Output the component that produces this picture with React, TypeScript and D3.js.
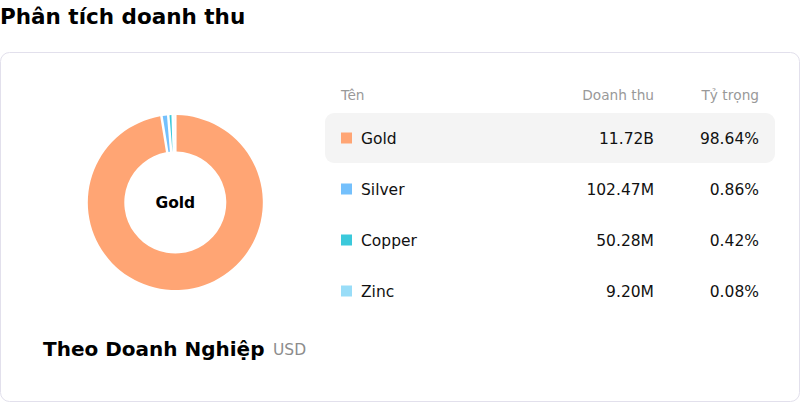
import * as d3 from 'd3';

const names = ['Gold', 'Silver', 'Copper', 'Zinc'];
const revenue = ['11.72B', '102.47M', '50.28M', '9.20M'];
const shares = [98.64, 0.86, 0.42, 0.08];
const colors = ['#FFA574', '#74C0FC', '#3BC9DB', '#99DDF8'];
const headers = ['Tên', 'Doanh thu', 'Tỷ trọng'];

const W = 800;
const H = 402;
const FONT = '"DejaVu Sans", Verdana, sans-serif';

export default function App() {
    const cx = 175.3;
    const cy = 202.5;
    const pie = d3.pie<number>().sort(null).value(d => d).padAngle(0.025);
    const arcs = pie(shares);
    const arc = d3.arc<d3.PieArcDatum<number>>().innerRadius(51).outerRadius(87.5);

    const y = d3.scaleBand<string>().domain(names).range([113, 317]).paddingInner(0);
    const colName = 341;
    const colRev = 654;
    const colShare = 759;

    return (
        <svg width={W} height={H} style={{ position: 'absolute', left: 0, top: 0, fontFamily: FONT }}>
            <text x={0} y={24} fontSize={21.5} fontWeight="bold" fill="#000">Phân tích doanh thu</text>
            <rect x={0.5} y={52.5} width={799} height={349} rx={9} fill="#fff" stroke="#e2e0ec" />

            <g transform={`translate(${cx},${cy})`}>
                {arcs.map((a, i) => (
                    <path key={names[i]} d={arc(a) || ''} fill={colors[i]} />
                ))}
                <text x={0} y={0} dy="0.35em" textAnchor="middle" fontSize={15.5} fontWeight="bold" fill="#000">{names[0]}</text>
            </g>

            <text x={43} y={356} fontSize={20} fontWeight="bold" fill="#000">Theo Doanh Nghiệp</text>
            <text x={273} y={355} fontSize={15.5} fill="#8c8c8c">USD</text>

            <text x={colName} y={100} fontSize={13.7} fill="#999">{headers[0]}</text>
            <text x={colRev} y={100} fontSize={13.7} fill="#999" textAnchor="end">{headers[1]}</text>
            <text x={colShare} y={100} fontSize={13.7} fill="#999" textAnchor="end">{headers[2]}</text>

            {names.map((n, i) => {
                const top = y(n)!;
                const mid = top + 25;
                return (
                    <g key={n}>
                        {i === 0 && <rect x={325} y={top} width={450} height={50} rx={9} fill="#f4f4f4" />}
                        <rect x={341} y={mid - 5.5} width={11} height={11} fill={colors[i]} />
                        <text x={361} y={mid} dy="0.36em" fontSize={15.5} fill="#111">{n}</text>
                        <text x={colRev} y={mid} dy="0.36em" fontSize={15.5} fill="#111" textAnchor="end">{revenue[i]}</text>
                        <text x={colShare} y={mid} dy="0.36em" fontSize={15.5} fill="#111" textAnchor="end">{shares[i].toFixed(2)}%</text>
                    </g>
                );
            })}
        </svg>
    );
}
